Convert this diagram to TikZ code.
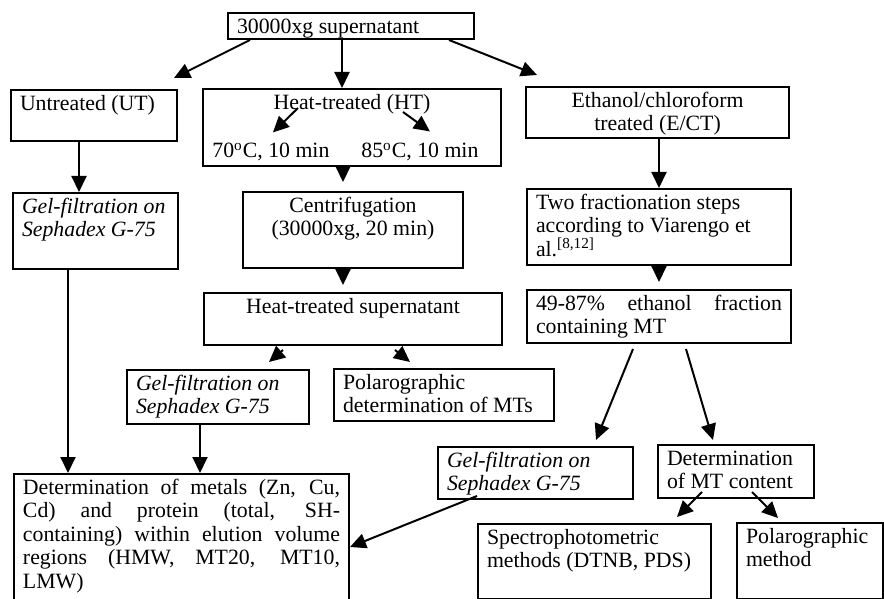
\documentclass[tikz,border=0pt]{standalone}
\usepackage{fontspec}
\setmainfont{Liberation Serif}
\usetikzlibrary{arrows.meta,calc}
\newcommand{\flowtext}[4]{\begin{minipage}[t][#2][t]{#1}#3\strut#4\end{minipage}}
\begin{document}
\begin{tikzpicture}[x=.5pt,y=-.5pt,
  box/.style={draw, line width=1pt, inner xsep=4.5pt, inner ysep=1.8pt, anchor=north west, font=\fontsize{10.9pt}{11.75pt}\selectfont},
  lbl/.style={inner sep=0pt, anchor=base west, font=\fontsize{10.9pt}{11.75pt}\selectfont},
  arr/.style={line width=1pt, -{Triangle[length=8pt,width=7.5pt]}}]
\useasboundingbox (0,0) rectangle (884,599);
\node[box] (top) at (227,12) {\flowtext{114pt}{9.4pt}{\raggedright}{30000xg supernatant}};
\node[box] (ut) at (10,89) {\flowtext{74pt}{21.9pt}{\raggedright}{Untreated (UT)}};
\node[box] (ht) at (202,88) {\flowtext{140pt}{34.9pt}{\centering}{Heat-treated (HT)}};
\node[lbl] (t70) at (212,158) {70\textsuperscript{o}C, 10 min};
\node[lbl] (t85) at (361,158) {85\textsuperscript{o}C, 10 min};
\node[box] (ect) at (525,86) {\flowtext{122.5pt}{21.9pt}{\centering}{Ethanol/chloroform\\ treated (E/CT)}};
\node[box] (gel1) at (12,192) {\flowtext{73.5pt}{34.4pt}{\raggedright\itshape}{Gel-filtration on\\ Sephadex G-75}};
\node[box] (cen) at (242,191) {\flowtext{101pt}{34.4pt}{\centering}{Centrifugation\\ (30000xg, 20 min)}};
\node[box] (two) at (526,188) {\flowtext{123pt}{34.4pt}{\raggedright}{Two fractionation steps\\ according to Viarengo et\\ al.\textsuperscript{[8,12]}}};
\node[box] (hts) at (203,292) {\flowtext{140pt}{22.4pt}{\centering}{Heat-treated supernatant}};
\node[box] (f49) at (526,289) {\flowtext{123pt}{22.9pt}{}{\makebox[\linewidth][s]{49-87\% ethanol fraction}\\ containing MT}};
\node[box] (gel2) at (126,369) {\flowtext{82pt}{23.4pt}{\raggedright\itshape}{Gel-filtration on\\ Sephadex G-75}};
\node[box] (pol1) at (333,368) {\flowtext{101pt}{22.4pt}{\raggedright}{Polarographic\\ determination of MTs}};
\node[box] (gel3) at (437,446) {\flowtext{88.5pt}{22.4pt}{\raggedright\itshape}{Gel-filtration on\\ Sephadex G-75}};
\node[box] (dmt) at (657,444) {\flowtext{69pt}{22.9pt}{\raggedright}{Determination\\ of MT content}};
\node[box] (det) at (13,473) {\flowtext{158.5pt}{66.4pt}{}{\makebox[\linewidth][s]{Determination of metals (Zn, Cu,}\\ \makebox[\linewidth][s]{Cd) and protein (total, SH-}\\ \makebox[\linewidth][s]{containing) within elution volume}\\ \makebox[\linewidth][s]{regions (HMW, MT20, MT10,}\\ LMW)}};
\node[box] (spec) at (477,523) {\flowtext{107.5pt}{33.9pt}{\raggedright}{Spectrophotometric\\ methods (DTNB, PDS)}};
\node[box] (pol2) at (736,522) {\flowtext{64pt}{34.4pt}{\raggedright}{Polarographic\\ method}};
\draw[arr] ($(top.south west)+(23,0)$) -- ($(ut.north east)+(-4,-11)$);
\draw[arr] ($(top.south)+(-9,0)$) -- ($(ht.north)+(-10,0)$);
\draw[arr] ($(top.south east)+(-26,0)$) -- ($(ect.north west)+(12,-11)$);
\draw[arr] ($(ht.north west)+(96,20)$) -- ($(t70.north)+(2,-10)$);
\draw[arr] ($(ht.north west)+(201,24)$) -- ($(t85.north)+(10,-11)$);
\draw[arr] ($(ut.south west)+(69,0)$) -- ($(gel1.north west)+(67,0)$);
\draw[arr] ($(ht.south)+(-9,0)$) -- ($(cen.north)+(-10,-9)$);
\draw[arr] ($(cen.south)+(-10,0)$) -- ($(hts.north)+(-10,-7)$);
\draw[arr] ($(hts.south west)+(80,4)$) -- ($(gel2.north east)+(-41,-7)$);
\draw[arr] ($(hts.south west)+(192,4)$) -- ($(pol1.north west)+(77,-6)$);
\draw[arr] ($(gel1.south west)+(56,0)$) -- ($(det.north west)+(55,0)$);
\draw[arr] ($(gel2.south west)+(74,0)$) -- ($(det.north west)+(187,0)$);
\draw[arr] (ect.south -| two.north) -- (two.north);
\draw[arr] (two.south) -- ($(f49.north)+(0,-7)$);
\draw[arr] ($(f49.south west)+(107,5)$) -- ($(gel3.north east)+(-38,-6)$);
\draw[arr] ($(f49.south west)+(160,5)$) -- ($(dmt.north west)+(56,-4)$);
\draw[arr] ($(gel3.south west)+(40,-4)$) -- ($(det.north east)+(0,74)$);
\draw[arr] ($(dmt.south west)+(45,-7)$) -- ($(spec.north east)+(-35,-6)$);
\draw[arr] ($(dmt.south west)+(95,-7)$) -- ($(pol2.north west)+(42,-4)$);
\end{tikzpicture}
\end{document}
